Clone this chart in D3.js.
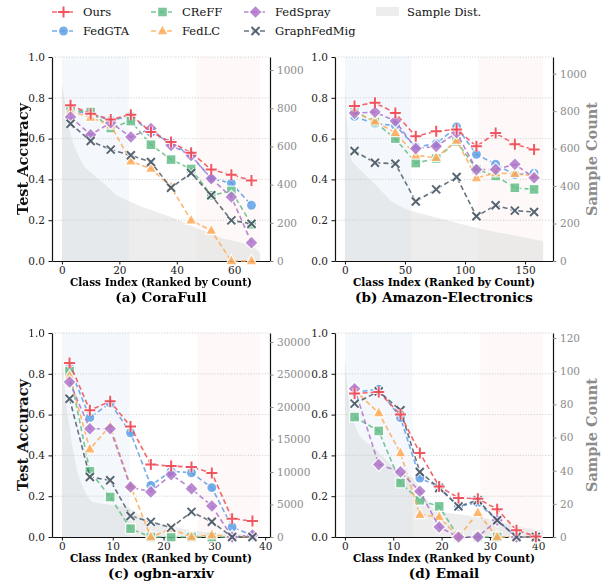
<!DOCTYPE html>
<html>
<head>
<meta charset="utf-8">
<script src="https://cdn.jsdelivr.net/npm/d3@7"></script>
<style>
  body { margin: 0; background: #fff; }
  svg { font-family: "DejaVu Serif", serif; }
</style>
</head>
<body>
<div id="chart"></div>
<script>
// ---------------- data ----------------
const methods = ["Ours", "FedGTA", "CReFF", "FedLC", "FedSpray", "GraphFedMig"];

// (a) CoraFull, 70 classes grouped in 10 bins
const coraClasses = 70;
const coraCenters = [3, 10, 17, 24, 31, 38, 45, 52, 59, 66];
const coraAcc = {
    Ours:        [0.763, 0.722, 0.694, 0.717, 0.632, 0.583, 0.531, 0.448, 0.423, 0.395],
    FedGTA:      [0.740, 0.720, 0.690, 0.710, 0.630, 0.580, 0.515, 0.404, 0.382, 0.273],
    CReFF:       [0.742, 0.730, 0.652, 0.686, 0.570, 0.497, 0.451, 0.322, 0.343, 0.180],
    FedLC:       [0.735, 0.703, 0.665, 0.489, 0.453, 0.363, 0.199, 0.149, 0.000, 0.000],
    FedSpray:    [0.706, 0.619, 0.678, 0.608, 0.649, 0.567, 0.518, 0.404, 0.314, 0.090],
    GraphFedMig: [0.673, 0.588, 0.546, 0.518, 0.485, 0.359, 0.431, 0.322, 0.199, 0.183]
};
const coraSampleIdx = [0, 1, 2, 4, 6, 8, 12, 16, 19, 24, 28, 33, 38, 42, 47, 52, 56, 61, 66, 69];
const coraSampleCnt = [929, 838, 717, 613, 543, 491, 439, 387, 344, 309, 283, 257, 231, 205, 170, 144, 118, 101, 83, 40];

// (b) Amazon-Electronics
const amazonClasses = 166;
const amazonCenters = [8, 25, 42, 59, 76, 93, 109.5, 125.5, 141.5, 157.5];
const amazonAcc = {
    Ours:        [0.760, 0.776, 0.725, 0.611, 0.636, 0.645, 0.562, 0.627, 0.572, 0.546],
    FedGTA:      [0.709, 0.672, 0.665, 0.559, 0.575, 0.657, 0.523, 0.474, 0.423, 0.431],
    CReFF:       [0.735, 0.681, 0.600, 0.480, 0.502, 0.587, 0.449, 0.417, 0.359, 0.351],
    FedLC:       [0.730, 0.685, 0.629, 0.518, 0.506, 0.591, 0.407, 0.431, 0.428, 0.417],
    FedSpray:    [0.725, 0.730, 0.686, 0.551, 0.562, 0.629, 0.448, 0.449, 0.474, 0.408],
    GraphFedMig: [0.539, 0.482, 0.477, 0.292, 0.351, 0.412, 0.219, 0.273, 0.247, 0.240]
};
const amazonSampleIdx = [0, 1, 3, 6, 12, 25, 38, 50, 59, 75, 96, 116, 140, 165];
const amazonSampleCnt = [947, 837, 588, 530, 491, 411, 322, 279, 260, 234, 199, 167, 137, 106];

// (c) ogbn-arxiv
const arxivClasses = 40;
const arxivCenters = [1.5, 5.5, 9.5, 13.5, 17.5, 21.5, 25.5, 29.5, 33.5, 37.5];
const arxivAcc = {
    Ours:        [0.853, 0.621, 0.665, 0.542, 0.355, 0.348, 0.343, 0.314, 0.090, 0.078],
    FedGTA:      [0.830, 0.585, 0.657, 0.511, 0.253, 0.322, 0.315, 0.242, 0.049, 0.008],
    CReFF:       [0.812, 0.322, 0.196, 0.041, 0.000, 0.000, 0.000, 0.000, 0.000, 0.000],
    FedLC:       [0.790, 0.430, 0.547, 0.250, 0.000, 0.040, 0.000, 0.010, 0.000, 0.000],
    FedSpray:    [0.760, 0.531, 0.531, 0.245, 0.221, 0.306, 0.237, 0.152, 0.000, 0.010],
    GraphFedMig: [0.678, 0.294, 0.278, 0.103, 0.074, 0.046, 0.123, 0.075, 0.000, 0.000]
};
const arxivSampleIdx = [0, 1, 2, 3, 4, 5, 6, 8, 10, 13, 17, 21, 25, 30, 39];
const arxivSampleCnt = [27300, 19460, 14120, 10040, 7850, 6280, 5340, 5100, 4900, 4610, 2510, 1790, 1040, 630, 250];

// (d) Email
const emailClasses = 42;
const emailCenters = [2, 7, 11.5, 15.5, 19.5, 23.5, 27.5, 31.5, 35.5, 39.5];
const emailAcc = {
    Ours:        [0.703, 0.711, 0.600, 0.412, 0.248, 0.191, 0.188, 0.136, 0.033, 0.003],
    FedGTA:      [0.710, 0.724, 0.585, 0.289, 0.245, 0.150, 0.168, 0.082, 0.000, 0.000],
    CReFF:       [0.588, 0.520, 0.265, 0.180, 0.150, 0.000, 0.000, 0.000, 0.000, 0.000],
    FedLC:       [0.720, 0.608, 0.412, 0.109, 0.098, 0.000, 0.119, 0.000, 0.000, 0.000],
    FedSpray:    [0.727, 0.355, 0.319, 0.224, 0.049, 0.000, 0.000, 0.082, 0.000, 0.000],
    GraphFedMig: [0.654, 0.714, 0.621, 0.319, 0.240, 0.150, 0.180, 0.082, 0.000, 0.000]
};
const emailSampleIdx = [0, 1, 2, 3, 4, 6, 8, 10, 12, 14, 16, 18, 20, 24, 28, 32, 36, 41];
const emailSampleCnt = [107, 76, 68, 61, 58, 54, 48, 42, 38, 36, 27, 18, 15, 13.5, 11.7, 9.2, 6, 3.7];

// ---------------- style ----------------
const style = {
    Ours:        { color: "#ef4b55", marker: "plus" },
    FedGTA:      { color: "#5b9ee6", marker: "circle" },
    CReFF:       { color: "#62bd85", marker: "square" },
    FedLC:       { color: "#ffaa55", marker: "triangle" },
    FedSpray:    { color: "#ad72c9", marker: "diamond" },
    GraphFedMig: { color: "#4b5a68", marker: "x" }
};
const drawOrder = ["FedGTA", "CReFF", "FedLC", "FedSpray", "GraphFedMig", "Ours"];

const PW = 218, PH = 204;
const panels = [
    { left: 52,  top: 57,  title: "(a) CoraFull", n: coraClasses, centers: coraCenters, acc: coraAcc,
      sIdx: coraSampleIdx, sCnt: coraSampleCnt, leftLabel: true },
    { left: 335, top: 57,  title: "(b) Amazon-Electronics", n: amazonClasses, centers: amazonCenters, acc: amazonAcc,
      sIdx: amazonSampleIdx, sCnt: amazonSampleCnt, rightLabel: true },
    { left: 52,  top: 333, title: "(c) ogbn-arxiv", n: arxivClasses, centers: arxivCenters, acc: arxivAcc,
      sIdx: arxivSampleIdx, sCnt: arxivSampleCnt, leftLabel: true },
    { left: 335, top: 333, title: "(d) Email", n: emailClasses, centers: emailCenters, acc: emailAcc,
      sIdx: emailSampleIdx, sCnt: emailSampleCnt, rightLabel: true }
];

const svg = d3.select("#chart").append("svg")
    .attr("width", 606)
    .attr("height", 585);
svg.append("rect").attr("width", 606).attr("height", 585).attr("fill", "#fff");

// draw one marker (white halo under it, like the original)
const drawMarker = (g, type, color, cx, cy) => {
    const t = `translate(${cx},${cy})`;
    if (type === "plus" || type === "x") {
        const d = type === "plus" ? "M-5.5,0H5.5M0,-5.5V5.5" : "M-4,-4L4,4M-4,4L4,-4";
        g.append("path").attr("d", d).attr("transform", t)
            .attr("stroke", "#fff").attr("stroke-width", 4).attr("stroke-opacity", 0.9).attr("fill", "none");
        g.append("path").attr("d", d).attr("transform", t)
            .attr("stroke", color).attr("stroke-width", 2).attr("fill", "none");
        return;
    }
    let d;
    if (type === "circle") d = d3.symbol(d3.symbolCircle, 62)();
    else if (type === "square") d = "M-4.3,-4.3H4.3V4.3H-4.3Z";
    else if (type === "triangle") d = "M0,-5.2L4.6,3.2H-4.6Z";
    else d = "M0,-5.8L5.8,0L0,5.8L-5.8,0Z";
    g.append("path").attr("d", d).attr("transform", t)
        .attr("fill", color).attr("fill-opacity", 0.9)
        .attr("stroke", "#fff").attr("stroke-width", 2.6).attr("stroke-opacity", 0.9)
        .style("paint-order", "stroke");
};

const drawPanel = (p) => {
    const g = svg.append("g").attr("transform", `translate(${p.left},${p.top})`);

    const x = d3.scaleLinear()
        .domain([-(p.n - 1) * 0.05, (p.n - 1) * 1.05])
        .range([0, PW]);
    const y = d3.scaleLinear().domain([0, 1]).range([PH, 0]);
    const y2 = d3.scaleLinear().domain([0, d3.max(p.sCnt) * 1.15]).range([PH, 0]);

    // head / tail shading
    g.append("rect")
        .attr("x", x(0)).attr("y", 0)
        .attr("width", x(p.n / 3) - x(0)).attr("height", PH)
        .attr("fill", "#dce8f6").attr("opacity", 0.3);
    g.append("rect")
        .attr("x", x(2 * p.n / 3)).attr("y", 0)
        .attr("width", x(p.n - 1) - x(2 * p.n / 3)).attr("height", PH)
        .attr("fill", "#f8dcdc").attr("opacity", 0.2);

    // sample distribution
    const area = d3.area()
        .x((d, i) => x(p.sIdx[i]))
        .y0(PH)
        .y1((d) => y2(d));
    g.append("path")
        .datum(p.sCnt)
        .attr("d", area)
        .attr("fill", "#d2d2d2")
        .attr("opacity", 0.4);

    // dotted grid
    g.selectAll(".grid")
        .data([0.2, 0.4, 0.6, 0.8, 1.0])
        .enter().append("line")
        .attr("x1", 0).attr("x2", PW)
        .attr("y1", (d) => y(d)).attr("y2", (d) => y(d))
        .attr("stroke", "#c8c8c8").attr("stroke-width", 0.8)
        .attr("stroke-dasharray", "1.2,1.6");

    // axes
    const axL = g.append("g")
        .call(d3.axisLeft(y).tickValues([0, 0.2, 0.4, 0.6, 0.8, 1.0])
            .tickFormat(d3.format(".1f")).tickSize(3.5).tickPadding(3.5).tickSizeOuter(0));
    const axB = g.append("g")
        .attr("transform", `translate(0,${PH})`)
        .call(d3.axisBottom(x).ticks(5).tickSize(3.5).tickPadding(2.5).tickSizeOuter(0));
    const axR = g.append("g")
        .attr("transform", `translate(${PW},0)`)
        .call(d3.axisRight(y2).ticks(6).tickFormat(d3.format("d"))
            .tickSize(3.5).tickPadding(3.5).tickSizeOuter(0));

    [axL, axB, axR].forEach((a) => {
        a.selectAll("text").style("font-family", "DejaVu Serif").style("font-size", "10.5px").attr("fill", "#222");
        a.select(".domain").attr("stroke", "#111").attr("stroke-width", 1.2);
        a.selectAll(".tick line").attr("stroke", "#111");
    });
    axR.selectAll("text").attr("fill", "#8c8c8c");
    axR.selectAll(".tick line").attr("stroke", "#8c8c8c");

    // method lines
    const line = d3.line()
        .x((d, i) => x(p.centers[i]))
        .y((d) => y(d));

    drawOrder.forEach((m) => {
        const s = style[m];
        const vals = p.acc[m];
        g.append("path")
            .datum(vals)
            .attr("d", line)
            .attr("fill", "none")
            .attr("stroke", s.color)
            .attr("stroke-width", 1.6)
            .attr("stroke-opacity", 0.85)
            .attr("stroke-dasharray", "5,3");
        const mg = g.append("g").attr("opacity", 0.92);
        vals.forEach((v, i) => drawMarker(mg, s.marker, s.color, x(p.centers[i]), y(v)));
    });

    // texts
    g.append("text")
        .attr("x", PW / 2).attr("y", PH + 24.5)
        .attr("text-anchor", "middle")
        .style("font-size", "10.5px").style("font-weight", "bold")
        .text("Class Index (Ranked by Count)");
    g.append("text")
        .attr("x", PW / 2).attr("y", PH + 41)
        .attr("text-anchor", "middle")
        .style("font-size", "13.5px").style("font-weight", "bold")
        .text(p.title);

    if (p.leftLabel) {
        g.append("text")
            .attr("transform", `translate(${23 - p.left + 5},${PH / 2}) rotate(-90)`)
            .attr("text-anchor", "middle")
            .style("font-size", "14.5px").style("font-weight", "bold")
            .attr("fill", "#111")
            .text("Test Accuracy");
    }
    if (p.rightLabel) {
        g.append("text")
            .attr("transform", `translate(${592 - p.left + 5},${PH / 2}) rotate(-90)`)
            .attr("text-anchor", "middle")
            .style("font-size", "14.5px").style("font-weight", "bold")
            .attr("fill", "#8c8c8c")
            .text("Sample Count");
    }
};

panels.forEach(drawPanel);

// ---------------- legend ----------------
const legendCols = [52, 151, 244];
const legendRows = [12, 31];
const legend = svg.append("g");
methods.forEach((m, i) => {
    const lx = legendCols[Math.floor(i / 2)];
    const ly = legendRows[i % 2];
    const s = style[m];
    legend.append("line")
        .attr("x1", lx).attr("x2", lx + 23)
        .attr("y1", ly).attr("y2", ly)
        .attr("stroke", s.color).attr("stroke-width", 1.6)
        .attr("stroke-opacity", 0.85)
        .attr("stroke-dasharray", "5,3");
    const mg = legend.append("g").attr("opacity", 0.92);
    drawMarker(mg, s.marker, s.color, lx + 11.5, ly);
    legend.append("text")
        .attr("x", lx + 31).attr("y", ly + 4)
        .style("font-size", "11.5px")
        .attr("fill", "#111")
        .text(m);
});
legend.append("rect")
    .attr("x", 376).attr("y", 7).attr("width", 23).attr("height", 9)
    .attr("fill", "#d2d2d2").attr("opacity", 0.4);
legend.append("text")
    .attr("x", 407).attr("y", 16)
    .style("font-size", "11.5px")
    .attr("fill", "#111")
    .text("Sample Dist.");
</script>
</body>
</html>
